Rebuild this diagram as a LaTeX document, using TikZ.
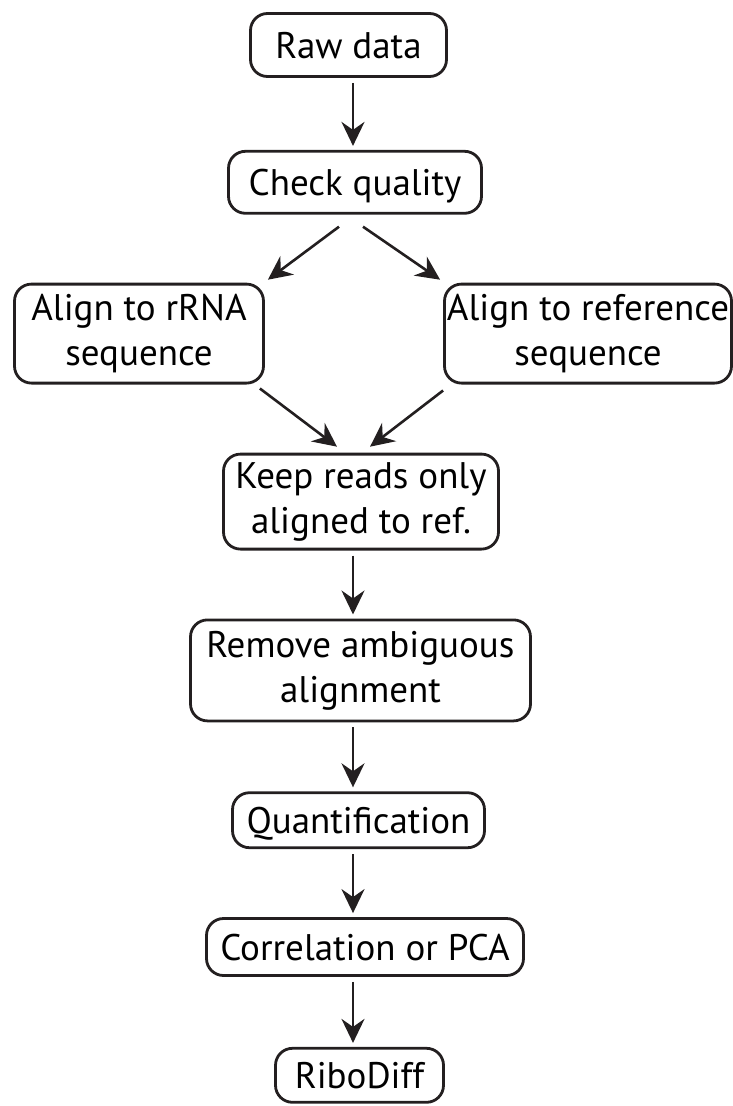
\documentclass[tikz,border=0pt]{standalone}
\usepackage{fontspec}
\setmainfont{PT Sans}
\usetikzlibrary{arrows.meta,positioning}
\definecolor{ink}{HTML}{231F20}

\begin{document}
\begin{tikzpicture}[
    x=1pt, y=1pt,
    font=\fontsize{37}{45}\selectfont,
    >=Stealth,
    box/.style={draw=ink, line width=2.8pt, rounded corners=17pt, align=center, inner sep=0pt},
    onerow/.style={box, text height=26pt, text depth=0pt},
    arr/.style={draw=ink, line width=2.6pt, -{Stealth[length=24pt, width=23pt, inset=8pt]}, shorten <=5pt, shorten >=4pt}
]
\useasboundingbox (0,0) rectangle (733,-1106);
\coordinate (axis) at (353,0);
\node[onerow, minimum width=196pt, minimum height=63pt] (raw) at (348.5,-45) {Raw data};
\node[onerow, minimum width=253pt, minimum height=62pt, below=72pt of raw, xshift=6.5pt] (check) {Check quality};
\node[box, minimum width=249pt, minimum height=99pt, below=68pt of check, xshift=-216pt] (rrna) {Align to rRNA\\sequence};
\node[box, minimum width=287pt, minimum height=99pt, below=68pt of check, xshift=233pt] (ref) {Align to reference\\sequence};
\node[box, minimum width=275pt, minimum height=95pt, below=238pt of check, xshift=6pt] (keep) {Keep reads only\\aligned to ref.};
\node[box, minimum width=340pt, minimum height=101pt, below=68pt of keep, xshift=-0.5pt] (remove) {Remove ambiguous\\alignment};
\node[onerow, minimum width=252pt, minimum height=55pt, below=69pt of remove, xshift=-2pt] (quant) {Quantification};
\node[onerow, minimum width=317pt, minimum height=57pt, below=68pt of quant, xshift=6.5pt] (corr) {Correlation or PCA};
\node[onerow, minimum width=168pt, minimum height=54pt, below=70pt of corr, xshift=-5.5pt] (ribo) {RiboDiff};
% straight steps
\draw[arr] (raw.south -| axis) -- (check.north -| axis);
\draw[arr] (keep.south -| axis) -- (remove.north -| axis);
\draw[arr] (remove.south -| axis) -- (quant.north -| axis);
\draw[arr] (quant.south -| axis) -- (corr.north -| axis);
\draw[arr] (corr.south -| axis) -- (ribo.north -| axis);
% split and merge
\draw[arr, shorten <=0pt, shorten >=0pt] ([xshift=-16pt, yshift=-12pt]check.south) -- ([xshift=3pt, yshift=3pt]rrna.north east);
\draw[arr, shorten <=0pt, shorten >=0pt] ([xshift=8pt, yshift=-12pt]check.south) -- ([xshift=-3pt, yshift=3pt]ref.north west);
\draw[arr, shorten <=0pt, shorten >=0pt] ([xshift=-5pt, yshift=-4pt]rrna.south east) -- ([xshift=-24pt, yshift=6pt]keep.north);
\draw[arr, shorten <=0pt, shorten >=0pt] ([yshift=-6pt]ref.south west) -- ([xshift=9pt, yshift=6pt]keep.north);
\end{tikzpicture}
\end{document}
